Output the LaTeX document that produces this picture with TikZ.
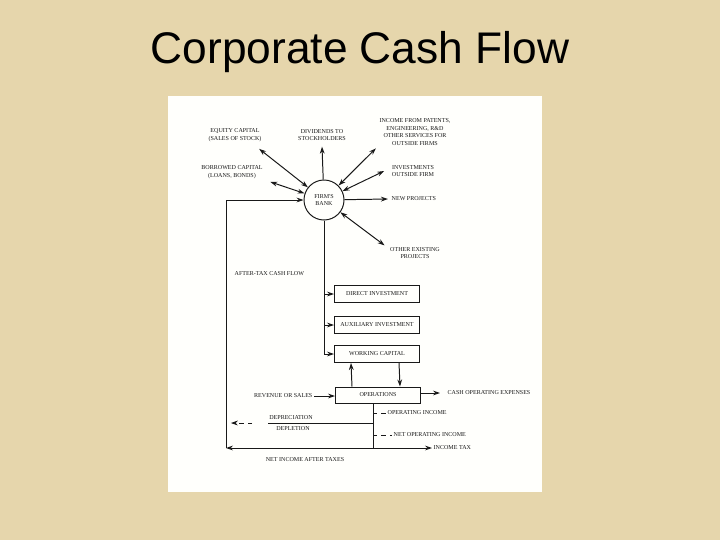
\documentclass[tikz,border=0pt]{standalone}
\usepackage{fontspec}
\newfontfamily\titlefont{Liberation Sans}
\newfontfamily\scanfont{Liberation Serif}
\usetikzlibrary{arrows.meta}
\definecolor{parchment}{RGB}{230,214,172}
\definecolor{paper}{RGB}{255,255,252}
\definecolor{ink}{RGB}{25,25,25}

\begin{document}
\begin{tikzpicture}[ x=0.025cm, y=-0.025cm, >={Stealth[length=5pt,width=3.4pt]},
    lbl/.style={font=\scanfont\fontsize{4.3}{5.6}\selectfont, align=center, inner sep=1pt, text=ink},
    flowbox/.style={lbl, draw=ink, line width=0.7pt, minimum width=2.125cm, minimum height=0.425cm},
    flow/.style={draw=ink, line width=0.7pt} ]

    % Page
    \useasboundingbox (0,0) rectangle (720,540);
    \fill[parchment] (0,0) rectangle (720,540);
    \fill[paper] (168,96) rectangle (542,492);
    \node[font=\titlefont\fontsize{31.5}{36}\selectfont, anchor=base] (title) at (360,63) {Corporate Cash Flow};

    % --- Firm's bank and its sources / uses ---
    \node[lbl, draw=ink, line width=0.7pt, circle, minimum size=1cm] (bank) at (324,200) {FIRM'S\\BANK};
    \node[lbl] (equity) at (235,135) {EQUITY CAPITAL\\(SALES OF STOCK)};
    \node[lbl] (divid) at (322,135) {DIVIDENDS TO\\STOCKHOLDERS};
    \node[lbl] (borrow) at (232,172) {BORROWED CAPITAL\\(LOANS, BONDS)};
    \node[lbl] (patents) at (415,132) {INCOME FROM PATENTS,\\ENGINEERING, R\&D\\OTHER SERVICES FOR\\OUTSIDE FIRMS};
    \node[lbl] (invout) at (413,171) {INVESTMENTS\\OUTSIDE FIRM};
    \node[lbl, anchor=west] (newproj) at (390,199) {NEW PROJECTS};
    \node[lbl] (otherex) at (415,253) {OTHER EXISTING\\PROJECTS};

    \draw[flow, <->] ([shift={(-0.1cm,-0.14cm)}]equity.south east) -- (bank);
    \draw[flow, ->] (bank) -- ([yshift=-0.1cm]divid.south);
    \draw[flow, <->] ([shift={(0.15cm,-0.04cm)}]borrow.south east) -- (bank);
    \draw[flow, <->] (bank) -- ([shift={(-0.05cm,-0.02cm)}]patents.south west);
    \draw[flow, <->] (bank) -- ([xshift=-0.15cm]invout.west);
    \draw[flow, ->] (bank) -- ([xshift=-0.05cm]newproj.west);
    \draw[flow, <->] (bank) -- ([xshift=-0.1cm]otherex.north west);

    % --- Investments ---
    \node[lbl, anchor=west] (aftertax) at (233,274) {AFTER-TAX CASH FLOW};
    \node[flowbox] (direct) at (377,294) {DIRECT INVESTMENT};
    \node[flowbox] (aux) at (377,325) {AUXILIARY INVESTMENT};
    \node[flowbox] (work) at (377,354) {WORKING CAPITAL};
    \draw[flow, ->] (bank) |- (direct);
    \draw[flow, ->] (bank) |- (aux);
    \draw[flow, ->] (bank) |- (work);

    % --- Operations ---
    \node[flowbox, minimum height=0.4cm] (ops) at (378,395) {OPERATIONS};
    \node[lbl, anchor=east] (revenue) at (314,396) {REVENUE OR SALES};
    \node[lbl, anchor=west] (cashexp) at (446,393) {CASH OPERATING EXPENSES};
    \draw[flow, ->] (revenue) -- (ops.west |- revenue);
    \draw[flow, ->] (ops.east |- cashexp) -- ([xshift=-0.15cm]cashexp.west);
    \draw[flow, ->] ([xshift=-0.65cm]ops.north) -- ([xshift=-0.65cm]work.south);
    \draw[flow, ->] ([xshift=0.55cm]work.south) -- ([xshift=0.55cm]ops.north);

    % --- Income split ---
    \coordinate (tax) at (373,448);
    \coordinate (corner) at (226,448);
    \coordinate (dep) at (373,423);
    \coordinate (depend) at (268,423);
    \node[lbl, anchor=west] (opinc) at (386,413) {OPERATING INCOME};
    \node[lbl, anchor=west] (netop) at (392,435) {NET OPERATING INCOME};
    \node[lbl, anchor=west] (incometax) at (432,448) {INCOME TAX};
    \node[lbl] (deprec) at (291,418) {DEPRECIATION};
    \node[lbl] (deplet) at (293,429) {DEPLETION};
    \node[lbl] (netinc) at (305,460) {NET INCOME AFTER TAXES};

    \draw[flow] (tax |- ops.south) -- (tax);
    \draw[flow, dashed] (tax |- opinc) -- (opinc.west);
    \draw[flow, dashed] (tax |- netop) -- (netop.west);
    \draw[flow, ->] (tax) -- (incometax);
    \draw[flow, ->] (tax) -- (corner);
    \draw[flow] (dep) -- (depend);
    \draw[flow, dashed, ->] ([xshift=-0.4cm]depend) -- ([xshift=0.12cm]corner |- dep);

    % After-tax cash flow back to the bank
    \draw[flow, ->] (corner) |- (bank);
  \end{tikzpicture}
\end{document}
